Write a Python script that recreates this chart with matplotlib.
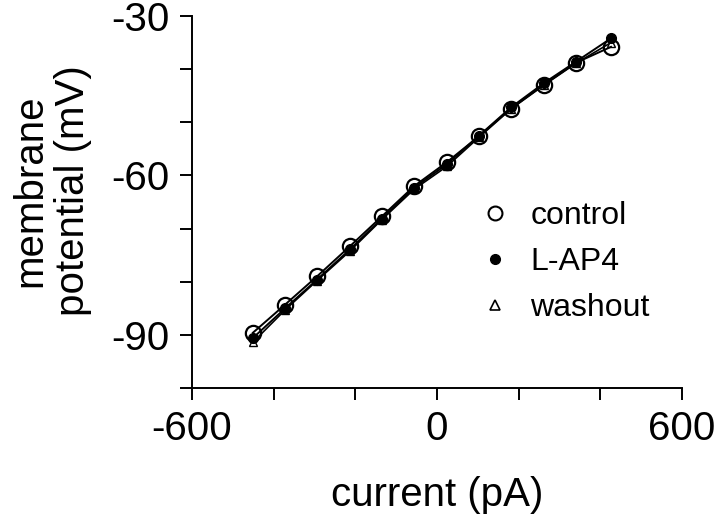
import numpy as np
from matplotlib import pyplot as plt
from matplotlib.lines import Line2D
import matplotlib

matplotlib.rc('font', family=['Liberation Sans', 'DejaVu Sans'])

# current steps (pA) and membrane potential (mV)
current = [-451, -372, -294, -213, -135, -56, 24, 103, 181, 262, 340, 426]
control = [-89.6, -84.3, -79.0, -73.3, -67.7, -62.0, -57.5, -52.6, -47.4, -42.9, -38.8, -35.8]
lap4 = [-90.6, -85.0, -79.6, -73.9, -68.1, -62.3, -57.9, -52.5, -47.2, -42.6, -38.6, -34.2]
washout = [-91.4, -85.3, -79.8, -74.2, -68.3, -62.6, -58.3, -52.8, -47.5, -43.0, -38.9, -35.0]

xticks = [-600, -400, -200, 0, 200, 400, 600]
xlabels = ['-600', '', '', '0', '', '', '600']
yticks = [-100, -90, -80, -70, -60, -50, -40, -30]
ylabels = ['', '-90', '', '', '-60', '', '', '-30']

fig = plt.figure(figsize=(7.2, 5.14), dpi=100)
ax = fig.add_axes([0.2667, 0.2451, 0.6806, 0.7237])

ax.plot(current, washout, '-', color='black', lw=1.2, marker='^', ms=6,
        mfc='white', mec='black', mew=1.0)
ax.plot(current, lap4, '-', color='black', lw=1.4, marker='o', ms=7,
        mfc='black', mec='black')
ax.plot(current, control, '-', color='black', lw=1.4, marker='o', ms=11,
        mfc='none', mec='black', mew=1.6)

ax.set_xlim(-600, 600)
ax.set_ylim(-100, -30)
ax.set_xticks(xticks)
ax.set_xticklabels(xlabels)
ax.set_yticks(yticks)
ax.set_yticklabels(ylabels)
ax.tick_params(direction='out', length=8.6, width=1.4, labelsize=29, pad=7.5)
for s in ['top', 'right']:
  ax.spines[s].set_visible(False)
for s in ['left', 'bottom']:
  ax.spines[s].set_linewidth(1.4)

ax.set_xlabel('current (pA)', fontsize=29)
ax.xaxis.set_label_coords(0.5, -0.237)
ax.set_ylabel('membrane\npotential (mV)', fontsize=29, linespacing=1.15)
ax.yaxis.set_label_coords(-0.205, 0.53)

handles = [Line2D([], [], ls='none', marker='o', ms=10, mfc='none', mec='black', mew=1.5),
           Line2D([], [], ls='none', marker='o', ms=7, mfc='black', mec='black'),
           Line2D([], [], ls='none', marker='^', ms=7, mfc='none', mec='black', mew=1.2)]
ax.legend(handles, ['control', 'L-AP4', 'washout'], loc='upper left',
          bbox_to_anchor=(0.527, 0.58), frameon=False, fontsize=23,
          handlelength=1.0, handletextpad=0.6, labelspacing=0.5)

plt.savefig('out.png', dpi=100)
